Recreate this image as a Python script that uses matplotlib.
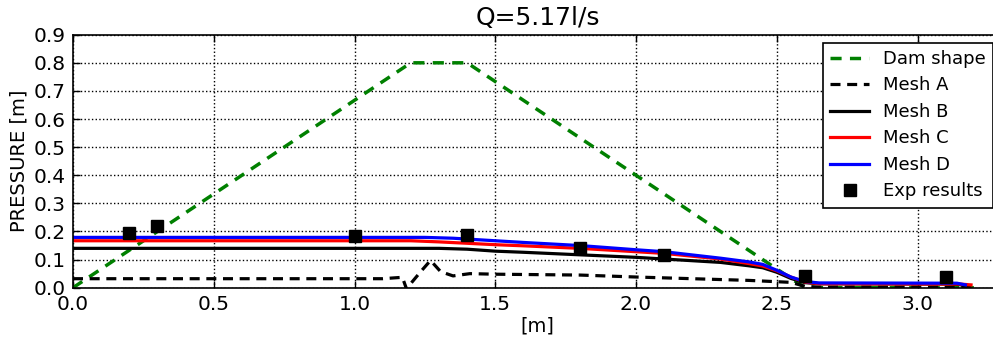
import matplotlib
matplotlib.use("Agg")
import matplotlib.pyplot as plt

plt.rcParams['lines.scale_dashes'] = False
plt.rcParams['font.family'] = ['DejaVu Sans']

# Data
dam_x = [0.0, 1.2, 1.4, 2.6, 3.2]
dam_y = [0.0, 0.8, 0.8, 0.0, 0.0]

meshA_x = [0.0, 1.1, 1.17, 1.185, 1.205, 1.235, 1.27, 1.306, 1.35, 1.41, 1.5, 1.8, 2.0, 2.2, 2.4, 2.55, 2.6, 2.65, 3.2]
meshA_y = [0.032, 0.032, 0.037, -0.005, 0.021, 0.057, 0.097, 0.057, 0.042, 0.050, 0.048, 0.045, 0.038, 0.032, 0.026, 0.019, 0.005, 0.002, 0.002]

meshB_x = [0.0, 1.3, 1.4, 1.5, 1.6, 1.8, 2.0, 2.1, 2.3, 2.4, 2.45, 2.5, 2.55, 2.6, 2.65, 3.1, 3.15, 3.17]
meshB_y = [0.140, 0.140, 0.137, 0.130, 0.126, 0.117, 0.108, 0.102, 0.090, 0.078, 0.071, 0.055, 0.033, 0.018, 0.014, 0.013, 0.011, 0.006]

meshC_x = [0.0, 1.2, 1.3, 1.4, 1.5, 1.6, 1.8, 2.0, 2.1, 2.3, 2.4, 2.45, 2.5, 2.55, 2.6, 2.65, 3.15, 3.19]
meshC_y = [0.167, 0.167, 0.163, 0.158, 0.153, 0.149, 0.140, 0.128, 0.122, 0.102, 0.086, 0.077, 0.060, 0.038, 0.020, 0.014, 0.013, 0.010]

meshD_x = [0.0, 1.25, 1.35, 1.5, 1.6, 1.8, 2.0, 2.1, 2.3, 2.4, 2.45, 2.5, 2.55, 2.6, 2.65, 3.14, 3.17]
meshD_y = [0.179, 0.179, 0.176, 0.167, 0.161, 0.150, 0.135, 0.128, 0.105, 0.092, 0.083, 0.062, 0.038, 0.022, 0.017, 0.016, 0.010]

exp_x = [0.2, 0.3, 1.0, 1.4, 1.8, 2.1, 2.6, 3.1]
exp_y = [0.193, 0.221, 0.184, 0.188, 0.143, 0.116, 0.042, 0.038]

xticks = [0.0, 0.5, 1.0, 1.5, 2.0, 2.5, 3.0]
yticks = [0.0, 0.1, 0.2, 0.3, 0.4, 0.5, 0.6, 0.7, 0.8, 0.9]

W, H = 993, 342
fig = plt.figure(figsize=(W / 100, H / 100), dpi=100)
left, right, top, bottom = 73, 1002, 34.7, 287.7
ax = fig.add_axes([left / W, 1 - bottom / H, (right - left) / W, (bottom - top) / H])

ax.plot(dam_x, dam_y, color='green', lw=2.5, dashes=(8, 6), label='Dam shape')
ax.plot(meshA_x, meshA_y, color='black', lw=2.3, dashes=(7.2, 4.8), label='Mesh A')
ax.plot(meshB_x, meshB_y, color='black', lw=2.3, label='Mesh B')
ax.plot(meshC_x, meshC_y, color='red', lw=2.3, label='Mesh C')
ax.plot(meshD_x, meshD_y, color='blue', lw=2.3, label='Mesh D')
ax.plot(exp_x, exp_y, 's', color='black', markersize=8, label='Exp results', linestyle='none')

ax.set_xlim(0, 3.3)
ax.set_ylim(0, 0.9)
ax.set_xticks(xticks)
ax.set_yticks(yticks)
ax.set_xticklabels([f"{v:.1f}" for v in xticks])
ax.set_yticklabels([f"{v:.1f}" for v in yticks])
ax.tick_params(direction='in', top=True, right=True, labelsize=14.5, length=5, width=1, pad=5)
ax.grid(True, color='black', linestyle=':', linewidth=1)
for s in ax.spines.values():
    s.set_linewidth(1.2)

ax.set_xlabel('[m]', fontsize=14, labelpad=2)
ax.set_ylabel('PRESSURE [m]', fontsize=14, labelpad=4)
ax.set_title('Q=5.17l/s', fontsize=18, pad=7)

leg = ax.legend(loc='upper right', bbox_to_anchor=(992.7 / W, 1 - 42.7 / H),
                bbox_transform=fig.transFigure, borderaxespad=0, fontsize=13,
                fancybox=False, framealpha=1, edgecolor='black', handlelength=2.15,
                handletextpad=0.75, numpoints=1, labelspacing=0.47, borderpad=0.4)
leg.get_frame().set_linewidth(1.2)

fig.savefig('out.png', dpi=100)
